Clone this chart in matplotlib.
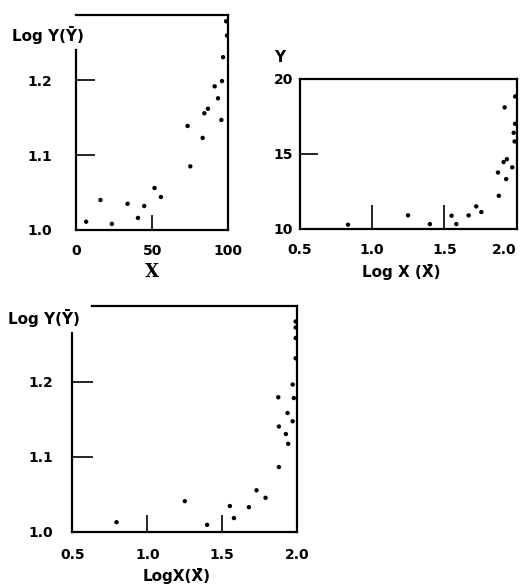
"""Three scatter panels: log Y against X, Y against log X, and log Y against log X."""

import matplotlib.pyplot as plt

# top-left panel: log Y vs X
x_lin = [6.6, 16.0, 23.5, 33.8, 40.6, 44.7, 51.5, 55.7, 73.2, 75.0,
         83.1, 84.2, 86.6, 91.0, 93.2, 95.4, 95.8, 96.5, 99.1, 98.5]
logy_a = [1.011, 1.040, 1.008, 1.035, 1.016, 1.032, 1.056, 1.044, 1.139, 1.085,
          1.123, 1.156, 1.162, 1.192, 1.176, 1.147, 1.199, 1.231, 1.260, 1.279]

# top-right panel: Y vs log X
logx_b = [0.834, 1.249, 1.400, 1.550, 1.583, 1.668, 1.721, 1.756, 1.877, 1.871,
          1.928, 1.910, 1.933, 1.970, 1.917, 1.986, 1.990, 1.990, 1.980]
y_b = [10.27, 10.89, 10.31, 10.87, 10.31, 10.89, 11.49, 11.11, 12.20, 13.75,
       13.31, 14.45, 14.64, 14.09, 18.09, 15.82, 18.82, 17.00, 16.40]

# bottom panel: log Y vs log X
logx_c = [0.794, 1.250, 1.399, 1.551, 1.578, 1.678, 1.729, 1.789, 1.878, 1.874,
          1.878, 1.925, 1.936, 1.940, 1.970, 1.978, 1.970, 1.990, 1.990, 1.990, 1.990]
logy_c = [1.0125, 1.0405, 1.009, 1.034, 1.018, 1.0325, 1.055, 1.045, 1.086, 1.179,
          1.140, 1.130, 1.158, 1.117, 1.196, 1.178, 1.147, 1.231, 1.258, 1.272, 1.280]

XBAR = "X\u0304"
FONT = dict(family="DejaVu Sans", weight="bold", size=10)

fig = plt.figure(figsize=(5.25, 5.88), dpi=100)


def style(ax, xticks, yticks, xlen, ylen, xpad, ypad):
    ax.set_xticks(xticks)
    ax.set_yticks(yticks)
    ax.tick_params(axis="x", direction="in", length=xlen, width=1.2, pad=xpad)
    ax.tick_params(axis="y", direction="in", length=ylen, width=1.2, pad=ypad)
    for lab in ax.get_xticklabels() + ax.get_yticklabels():
        lab.set_fontproperties(FONT)
        lab.set_fontweight("bold")
    for sp in ax.spines.values():
        sp.set_linewidth(1.6)


ax1 = fig.add_axes([0.145, 0.609, 0.290, 0.365])
ax1.scatter(x_lin, logy_a, s=10, c="black", edgecolors="none")
ax1.set_xlim(0, 100)
ax1.set_ylim(1.0, 1.287)
style(ax1, [0, 50, 100], [1.0, 1.1, 1.2], 11, 14, 10, 17)
ax1.set_xticklabels(["0", "50", "100"])
ax1.set_yticklabels(["1.0", "1.1", "1.2"])
ax1.spines["left"].set_bounds(1.0, 1.241)

ax2 = fig.add_axes([0.571, 0.611, 0.413, 0.255])
ax2.scatter(logx_b, y_b, s=10, c="black", edgecolors="none")
ax2.set_xlim(0.5, 2.0)
ax2.set_ylim(10, 20)
style(ax2, [0.5, 1.0, 1.5, 2.0], [10, 15, 20], 17, 13, 10, 5)
ax2.set_xticklabels(["0.5", "1.0", "1.5", "2.0"])
ax2.set_yticklabels(["10", "15", "20"])
# keep the last label inside the figure
last = ax2.get_xticklabels()[-1]
last.set_horizontalalignment("right")
last.set_fontproperties(FONT)
last.set_fontweight("bold")

ax3 = fig.add_axes([0.138, 0.096, 0.428, 0.384])
ax3.scatter(logx_c, logy_c, s=10, c="black", edgecolors="none")
ax3.set_xlim(0.5, 2.0)
ax3.set_ylim(1.0, 1.301)
style(ax3, [0.5, 1.0, 1.5, 2.0], [1.0, 1.1, 1.2], 12, 15, 12, 14)
ax3.set_xticklabels(["0.5", "1.0", "1.5", "2.0"])
ax3.set_yticklabels(["1.0", "1.1", "1.2"])
ax3.spines["left"].set_bounds(1.0, 1.265)
ax3.spines["top"].set_bounds(0.63, 2.0)

# axis titles placed in figure pixels (origin top-left)
W, H = 525, 588


def label(x, y, s, ha="center", size=11, family="DejaVu Sans"):
    fig.text(x / W, 1 - y / H, s, ha=ha, va="center",
             family=family, weight="bold", size=size)


label(12, 35, "Log Y(\u0232)", ha="left")
label(152, 272, "X", size=13, family="DejaVu Serif")
label(280, 58, "Y")
label(401, 272, f"Log X ({XBAR})")
label(8, 318, "Log Y(\u0232)", ha="left")
label(177, 576, f"LogX({XBAR})")

fig.savefig("out.png", dpi=100)
